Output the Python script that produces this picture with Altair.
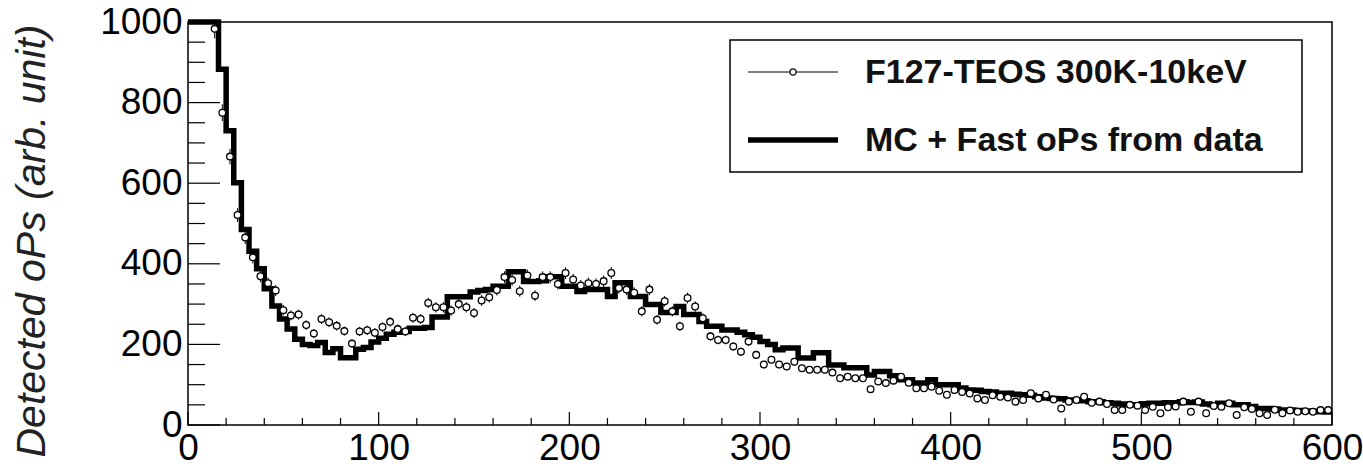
import math
import altair as alt
import pandas as pd

# ---------------- data ----------------
BIN_WIDTH = 4  # histogram bin width (x units)

# MC + Fast oPs histogram, one value per 4-unit bin starting at x = 0
mc_counts = [
    1000, 1000, 1000, 1000, 883, 730, 601, 485, 431, 388,
    338, 295, 263, 238, 213, 200, 197, 205, 180, 189,
    167, 167, 188, 192, 206, 215, 225, 230, 232, 240,
    240, 242, 268, 268, 318, 318, 318, 330, 334, 336,
    344, 344, 380, 380, 356, 356, 358, 368, 368, 344,
    344, 331, 336, 336, 336, 319, 353, 353, 319, 319,
    299, 299, 279, 279, 294, 274, 274, 257, 245, 245,
    236, 236, 230, 224, 218, 207, 200, 187, 191, 191,
    166, 166, 179, 179, 149, 149, 142, 142, 142, 124,
    133, 133, 122, 112, 112, 104, 104, 112, 100, 100,
    100, 92, 87, 86, 83, 82, 79, 79, 76, 75,
    74, 70, 67, 66, 65, 62, 62, 60, 58, 58,
    55, 54, 52, 50, 50, 53, 54, 54, 55, 55,
    58, 56, 57, 52, 50, 54, 54, 50, 50, 46,
    41, 41, 40, 37, 37, 36, 35, 34, 33, 32,
]

# F127-TEOS 300K-10keV data, bin centres 14, 18, 22, ... 598
data_first_center = 14
data_counts = [
    983, 775, 666, 521, 465, 416, 369, 352, 334, 285,
    272, 274, 248, 227, 263, 255, 246, 233, 202, 232,
    235, 229, 243, 256, 238, 232, 266, 263, 303, 292,
    292, 284, 300, 292, 278, 309, 317, 335, 367, 360,
    332, 371, 321, 367, 367, 350, 377, 361, 346, 352,
    350, 357, 377, 340, 336, 328, 282, 336, 261, 307,
    282, 245, 315, 294, 265, 220, 211, 211, 195, 182,
    207, 174, 150, 162, 150, 145, 157, 141, 137, 137,
    137, 130, 116, 120, 116, 116, 89, 108, 104, 110,
    120, 105, 91, 91, 95, 85, 75, 87, 82, 78,
    66, 62, 74, 70, 68, 58, 62, 79, 66, 75,
    63, 41, 58, 62, 70, 55, 58, 52, 37, 37,
    50, 48, 37, 45, 29, 44, 46, 58, 33, 58,
    29, 47, 45, 54, 25, 44, 40, 29, 25, 38,
    29, 36, 33, 34, 33, 37, 37,
]

x_major = [0, 100, 200, 300, 400, 500, 600]
x_minor = [v for v in range(0, 601, 20) if v % 100]
y_major = [0, 200, 400, 600, 800, 1000]
y_minor = [v for v in range(0, 1001, 50) if v % 200]

legend_labels = ["F127-TEOS 300K-10keV", "MC + Fast oPs from data"]
y_title = "Detected oPs (arb. unit)"

# ---------------- tables ----------------
n_bins = len(mc_counts)
hist_df = pd.DataFrame({
    "x": [i * BIN_WIDTH for i in range(n_bins)] + [n_bins * BIN_WIDTH],
    "y": mc_counts + [mc_counts[-1]],
})
data_df = pd.DataFrame({
    "x": [data_first_center + BIN_WIDTH * i for i in range(len(data_counts))],
    "y": data_counts,
})
err = [0.75 * math.sqrt(v) for v in data_counts]
data_df["lo"] = [v - e for v, e in zip(data_counts, err)]
data_df["hi"] = [v + e for v, e in zip(data_counts, err)]

FONT = "Liberation Sans"
W, H = 1144, 403

xs = alt.Scale(domain=[0, 600], nice=False, zero=False)
ys = alt.Scale(domain=[0, 1000], nice=False, zero=False)

XAX = alt.Axis(values=x_major, ticks=False, domain=False, grid=False, title=None,
               labelFont=FONT, labelFontSize=37, labelColor="black", labelPadding=5,
               labelFlush=False, labelOverlap=False, format="d")
YAX = alt.Axis(values=y_major, ticks=False, domain=False, grid=False, title=None,
               labelFont=FONT, labelFontSize=37, labelColor="black", labelPadding=6,
               labelOverlap=False, format="d")


def X(field):
    return alt.X(field, scale=xs, axis=XAX)


def Y(field):
    return alt.Y(field, scale=ys, axis=YAX)


hist = alt.Chart(hist_df).mark_line(
    interpolate="step-after", color="black", strokeWidth=5.5, strokeJoin="miter"
).encode(x=X("x:Q"), y=Y("y:Q"))

errbars = alt.Chart(data_df).mark_rule(color="black", strokeWidth=1).encode(
    x=X("x:Q"), y=Y("lo:Q"), y2="hi:Q")

points = alt.Chart(data_df).mark_point(
    shape="circle", filled=True, fill="white", stroke="black",
    strokeWidth=1.3, size=45, opacity=1
).encode(x=X("x:Q"), y=Y("y:Q"))

ymaj = alt.Chart(pd.DataFrame({"v": y_major})).mark_rule(color="black", strokeWidth=1.2).encode(
    y=Y("v:Q"), x=alt.value(0), x2=alt.value(32))
ymin = alt.Chart(pd.DataFrame({"v": y_minor})).mark_rule(color="black", strokeWidth=1.2).encode(
    y=Y("v:Q"), x=alt.value(0), x2=alt.value(17))
xmaj = alt.Chart(pd.DataFrame({"v": x_major})).mark_rule(color="black", strokeWidth=1.2).encode(
    x=X("v:Q"), y=alt.value(H), y2=alt.value(H - 13))
xmin = alt.Chart(pd.DataFrame({"v": x_minor})).mark_rule(color="black", strokeWidth=1.2).encode(
    x=X("v:Q"), y=alt.value(H), y2=alt.value(H - 7))

# ---------------- legend (drawn by hand, ROOT style) ----------------
leg_box = alt.Chart(pd.DataFrame({"k": [0]})).mark_rect(
    fill="white", stroke="black", strokeWidth=1.5
).encode(x=alt.value(542), x2=alt.value(1114), y=alt.value(18), y2=alt.value(150))
leg_line1 = alt.Chart(pd.DataFrame({"k": [0]})).mark_rule(color="black", strokeWidth=1).encode(
    x=alt.value(560), x2=alt.value(650), y=alt.value(50))
leg_pt1 = alt.Chart(pd.DataFrame({"k": [0]})).mark_point(
    shape="circle", filled=True, fill="white", stroke="black", strokeWidth=1.3, size=40, opacity=1
).encode(x=alt.value(605), y=alt.value(50))
leg_line2 = alt.Chart(pd.DataFrame({"k": [0]})).mark_rule(color="black", strokeWidth=5.5).encode(
    x=alt.value(560), x2=alt.value(650), y=alt.value(118))
leg_txt1 = alt.Chart(pd.DataFrame({"t": [legend_labels[0]]})).mark_text(
    align="left", baseline="middle", font=FONT, fontSize=34, fontWeight="bold", color="#111111"
).encode(x=alt.value(677), y=alt.value(51), text="t:N")
leg_txt2 = alt.Chart(pd.DataFrame({"t": [legend_labels[1]]})).mark_text(
    align="left", baseline="middle", font=FONT, fontSize=34, fontWeight="bold", color="#111111"
).encode(x=alt.value(677), y=alt.value(119), text="t:N")

ytitle = alt.Chart(pd.DataFrame({"t": [y_title]})).mark_text(
    angle=270, align="center", baseline="middle", font=FONT, fontSize=41,
    fontStyle="italic", color="#222222"
).encode(x=alt.value(-155), y=alt.value(219), text="t:N")

chart = alt.layer(
    hist, errbars, points, ymaj, ymin, xmaj, xmin,
    leg_box, leg_line1, leg_pt1, leg_line2, leg_txt1, leg_txt2, ytitle,
).properties(
    width=W, height=H,
    padding={"left": 188, "top": 22, "right": 31, "bottom": 46},
    autosize=alt.AutoSizeParams(type="none"),
    background="white",
).configure_view(stroke="black", strokeWidth=1.5)

chart.save("out.html", embed_options={"renderer": "svg", "actions": False})
